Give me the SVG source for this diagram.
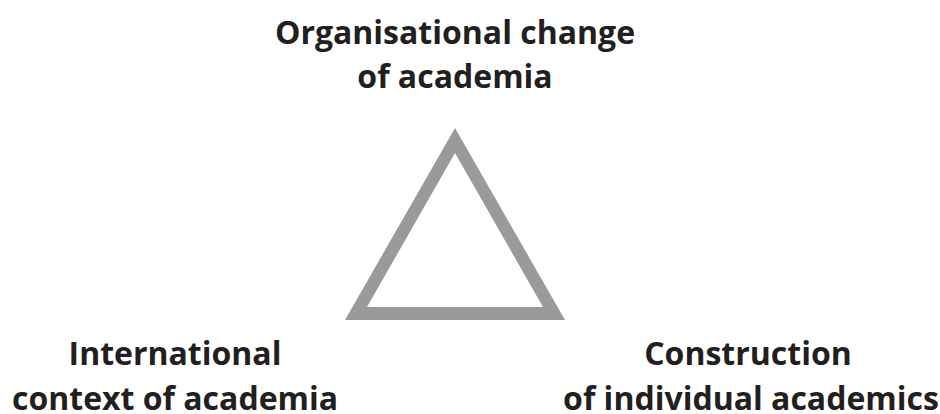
<svg xmlns="http://www.w3.org/2000/svg" width="940" height="414" viewBox="0 0 940 414">
<style>
.lbl{font-family:"Open Sans","Liberation Sans",sans-serif;font-weight:bold;font-size:32px;fill:#231f20;text-anchor:middle}
.tri{fill:#999a9c;fill-rule:evenodd}
</style>
<rect width="940" height="414" fill="#ffffff"/>
<g id="triangle">
<path class="tri" d="M455,128 L345,320 L565,320 Z M455,153 L367,307 L543,307 Z"/>
</g>
<g id="node-top">
<text class="lbl" x="455" y="44">Organisational change</text>
<text class="lbl" x="455" y="88">of academia</text>
</g>
<g id="node-left">
<text class="lbl" x="175" y="365">International</text>
<text class="lbl" x="175" y="410">context of academia</text>
</g>
<g id="node-right">
<text class="lbl" x="748" y="365">Construction</text>
<text class="lbl" x="751" y="410">of individual academics</text>
</g>
<g id="connectors"></g>
</svg>
